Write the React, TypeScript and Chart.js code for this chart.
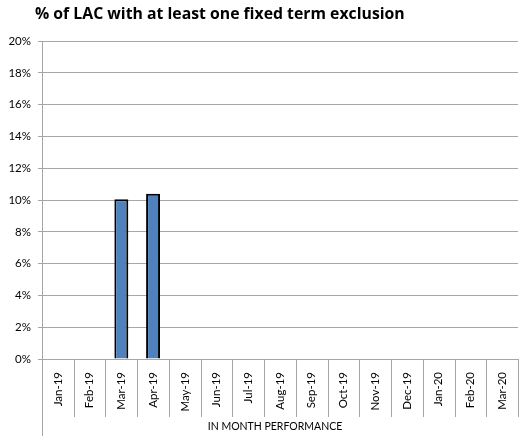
import React, { useEffect, useRef } from "react";
import { Chart, registerables } from "chart.js";

Chart.register(...registerables);

const TITLE = "% of LAC with at least one fixed term exclusion";
const X_TITLE = "IN MONTH PERFORMANCE";
const categories = [
  "Jan-19", "Feb-19", "Mar-19", "Apr-19", "May-19", "Jun-19", "Jul-19", "Aug-19",
  "Sep-19", "Oct-19", "Nov-19", "Dec-19", "Jan-20", "Feb-20", "Mar-20",
];
const values: (number | null)[] = [
  null, null, 10.05, 10.4, null, null, null, null, null, null, null, null, null, null, null,
];
const Y_MIN = 0;
const Y_MAX = 20;
const Y_STEP = 2;

const FONT = "Lato, 'Open Sans', sans-serif";
const TITLE_FONT = "'Open Sans', sans-serif";

const decorPlugin = {
  id: "decor",
  afterDraw(chart: any) {
    const { ctx, chartArea, scales } = chart;
    const x = scales.x;
    ctx.save();
    // title
    ctx.fillStyle = "#000";
    ctx.font = `bold 15.8px ${TITLE_FONT}`;
    ctx.textAlign = "left";
    ctx.textBaseline = "alphabetic";
    ctx.fillText(TITLE, 35, 19);
    // category separators
    ctx.strokeStyle = "#a6a6a6";
    ctx.lineWidth = 1;
    const n = categories.length;
    const half = (x.getPixelForValue(1) - x.getPixelForValue(0)) / 2;
    for (let i = 1; i <= n; i++) {
      const px = Math.round(x.getPixelForValue(i - 1) + half) + 0.5;
      ctx.beginPath();
      ctx.moveTo(px, chartArea.bottom);
      ctx.lineTo(px, chartArea.bottom + 58);
      ctx.stroke();
    }
    // left axis extension
    const lx = Math.round(chartArea.left) + 0.5;
    ctx.beginPath();
    ctx.moveTo(lx, chartArea.top);
    ctx.lineTo(lx, chartArea.bottom + 77);
    ctx.stroke();
    // axis title
    ctx.fillStyle = "#000";
    ctx.font = `10.5px ${FONT}`;
    ctx.textAlign = "center";
    ctx.textBaseline = "middle";
    ctx.fillText(X_TITLE, (chartArea.left + chartArea.right) / 2 - 5, chartArea.bottom + 68);
    ctx.restore();
  },
};

export default function App() {
  const ref = useRef<HTMLCanvasElement | null>(null);
  useEffect(() => {
    if (!ref.current) return;
    const chart = new Chart(ref.current, {
      type: "bar",
      data: {
        labels: categories,
        datasets: [
          {
            data: values,
            backgroundColor: "#4f81bd",
            borderColor: "#000000",
            borderWidth: 2,
            borderSkipped: "bottom",
            categoryPercentage: 1,
            barPercentage: 0.44,
          },
        ],
      },
      options: {
        animation: false,
        responsive: false,
        layout: { padding: { top: 41, right: 8, left: 0, bottom: 0 } },
        plugins: { legend: { display: false }, tooltip: { enabled: false }, title: { display: false } },
        scales: {
          x: {
            offset: true,
            grid: { display: false },
            border: { display: true, color: "#a6a6a6" },
            ticks: {
              minRotation: 90,
              maxRotation: 90,
              autoSkip: false,
              padding: 5,
              color: "#000",
              font: { family: FONT, size: 11.5 },
            },
            afterFit(scale: any) {
              scale.height = 80;
            },
          },
          y: {
            min: Y_MIN,
            max: Y_MAX,
            grid: { color: "#a6a6a6", tickLength: 4 },
            border: { display: true, color: "#a6a6a6" },
            ticks: {
              stepSize: Y_STEP,
              padding: 7,
              color: "#000",
              font: { family: FONT, size: 11.5 },
              callback: (v: any) => `${v}%`,
            },
            afterFit(scale: any) {
              scale.width = 42;
            },
          },
        },
      },
      plugins: [decorPlugin],
    });
    return () => chart.destroy();
  }, []);
  return (
    <div style={{ position: "fixed", left: 0, top: 0, width: 526, height: 439, background: "#fff" }}>
      <canvas ref={ref} width={526} height={439} style={{ width: 526, height: 439 }} />
    </div>
  );
}
